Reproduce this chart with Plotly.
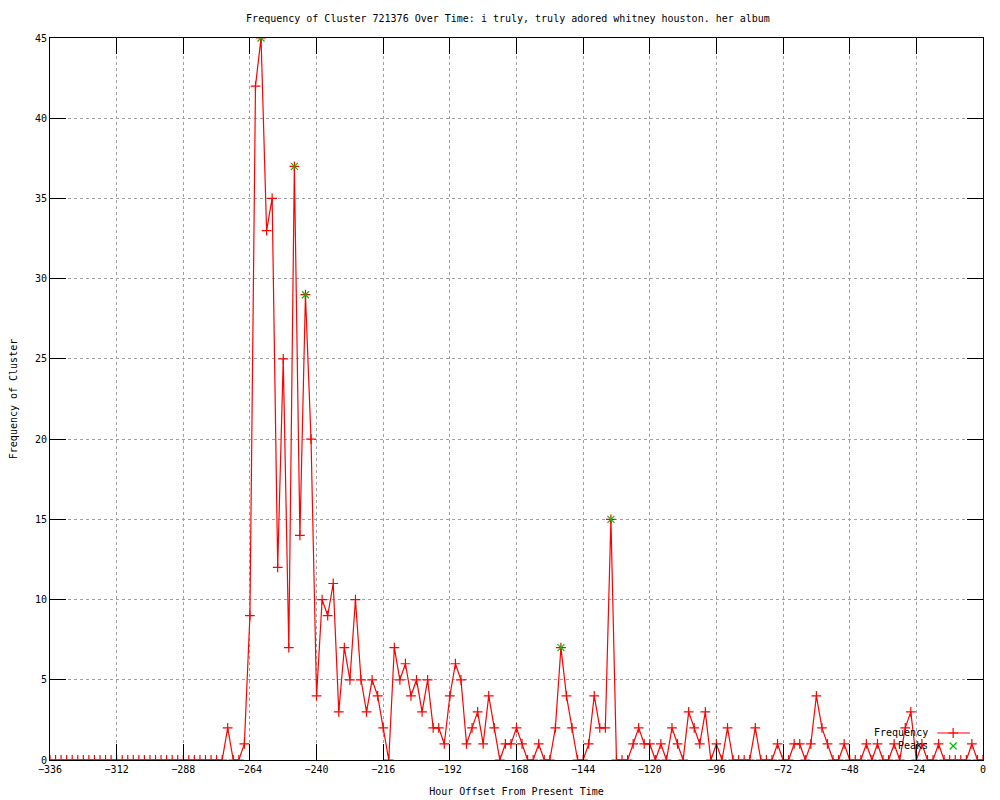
import plotly.graph_objects as go

# --- data: 2-hour buckets, hour offset from present ---
hours = list(range(-336, 1, 2))
freq = [0] * 32 + [
    2, 0, 0, 1, 9, 42, 45, 33, 35, 12, 25, 7, 37, 14, 29, 20,
    4, 10, 9, 11, 3, 7, 5, 10, 5, 3, 5, 4, 2, 0, 7, 5,
    6, 4, 5, 3, 5, 2, 2, 1, 4, 6, 5, 1, 2, 3, 1, 4,
    2, 0, 1, 1, 2, 1, 0, 0, 1, 0, 0, 2, 7, 4, 2, 0,
    0, 1, 4, 2, 2, 15, 0, 0, 0, 1, 2, 1, 1, 0, 1, 0,
    2, 1, 0, 3, 2, 1, 3, 0, 1, 0, 2, 0, 0, 0, 0, 2,
    0, 0, 0, 1, 0, 0, 1, 1, 0, 1, 4, 2, 1, 0, 0, 1,
    0, 0, 0, 1, 0, 1, 0, 0, 1, 0, 2, 3, 0, 1, 0, 0,
    1, 0, 0, 0, 0, 0, 1, 0, 0,
]
peak_hours = [-260, -248, -244, -152, -134]
peak_vals = [45, 37, 29, 7, 15]

x_ticks = list(range(-336, 1, 24))
y_ticks = list(range(0, 46, 5))

FONT = "DejaVu Sans Mono"
RED = "#ff0000"
GREEN = "#00c000"

fig = go.Figure()

fig.add_trace(go.Scatter(
    x=hours, y=freq, mode="lines+markers", name="Frequency",
    line=dict(color=RED, width=1.2),
    marker=dict(symbol="cross-thin", size=7, line=dict(color=RED, width=1.2)),
    showlegend=False,
))
fig.add_trace(go.Scatter(
    x=peak_hours, y=peak_vals, mode="markers", name="Peaks",
    marker=dict(symbol="x-thin", size=7, line=dict(color=GREEN, width=1.2)),
    showlegend=False,
))

# gnuplot-style key (text first, sample after) drawn on an overlay axis
key_x = [0.951, 0.986]
fig.add_trace(go.Scatter(
    x=key_x, y=[0.0374, 0.0374], mode="lines", xaxis="x2", yaxis="y2",
    line=dict(color=RED, width=1.2), showlegend=False, hoverinfo="skip",
))
fig.add_trace(go.Scatter(
    x=[0.968], y=[0.0374], mode="markers", xaxis="x2", yaxis="y2",
    marker=dict(symbol="cross-thin", size=7, line=dict(color=RED, width=1.2)),
    showlegend=False, hoverinfo="skip",
))
fig.add_trace(go.Scatter(
    x=[0.968], y=[0.0194], mode="markers", xaxis="x2", yaxis="y2",
    marker=dict(symbol="x-thin", size=7, line=dict(color=GREEN, width=1.2)),
    showlegend=False, hoverinfo="skip",
))
for label, yy in [("Frequency", 0.0374), ("Peaks", 0.0194)]:
    fig.add_annotation(x=0.943, y=yy, xref="paper", yref="paper", text=label,
                       showarrow=False, xanchor="right", yanchor="middle",
                       font=dict(family=FONT, size=10, color="black"))

axis_common = dict(
    showline=True, linecolor="black", linewidth=1, mirror="ticks",
    ticks="inside", ticklen=16, tickcolor="black", tickwidth=1,
    showgrid=True, gridcolor="#a0a0a0", griddash="dot", gridwidth=1,
    zeroline=False, automargin=False,
    tickfont=dict(family=FONT, size=10, color="black"),
)

# page body adds ~8px offset, so margins are shifted to compensate
fig.update_layout(
    width=1000, height=800,
    paper_bgcolor="white", plot_bgcolor="white",
    margin=dict(l=42, r=25, t=30, b=48, autoexpand=False),
    font=dict(family=FONT, size=10, color="black"),
    title=dict(text="Frequency of Cluster 721376 Over Time: i truly, truly adored whitney houston. her album",
               x=0.5, xanchor="center", y=1 - 10 / 800, yanchor="middle",
               automargin=False,
               font=dict(family=FONT, size=10, color="black")),
    xaxis=dict(range=[-336, 0], tickvals=x_ticks,
               title=dict(text="Hour Offset From Present Time", standoff=13,
                          font=dict(family=FONT, size=10)),
               **axis_common),
    yaxis=dict(range=[0, 45], tickvals=y_ticks,
               title=dict(text="Frequency of Cluster", standoff=17,
                          font=dict(family=FONT, size=10)),
               **axis_common),
    xaxis2=dict(overlaying="x", range=[0, 1], visible=False),
    yaxis2=dict(overlaying="y", range=[0, 1], visible=False),
)

fig.write_html("out.html")
